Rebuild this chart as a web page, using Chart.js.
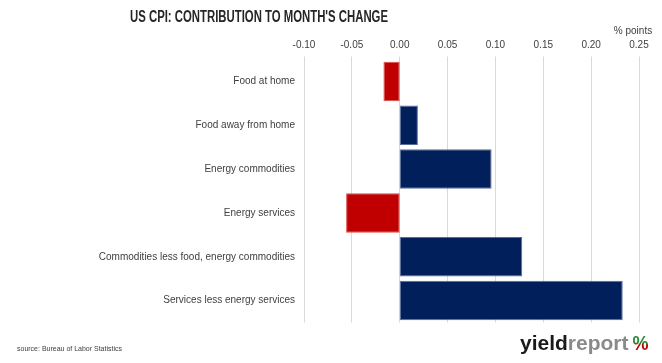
<!DOCTYPE html>
<html><head><meta charset="utf-8">
<script src="https://cdn.jsdelivr.net/npm/chart.js@4/dist/chart.umd.min.js"></script>
<style>html,body{margin:0;padding:0;background:#fff}#wrap{width:662px;height:363px}</style>
</head><body><div id="wrap"><canvas id="c" width="662" height="363"></canvas></div>
<script>
const categories = ["Food at home","Food away from home","Energy commodities","Energy services","Commodities less food, energy commodities","Services less energy services"];
const contributions = [-0.017, 0.019, 0.096, -0.056, 0.128, 0.233];
const axisMin = -0.10, axisMax = 0.25, axisStep = 0.05;
const titleText = "US CPI: CONTRIBUTION TO MONTH'S CHANGE";
const unitText = "% points";
const sourceText = "source: Bureau of Labor Statistics";

const NAVY = '#001F5B', RED = '#C00000';
const FONT = '"Liberation Sans", Arial, sans-serif';

const deco = {
  id: 'deco',
  afterDraw(chart) {
    const ctx = chart.ctx;
    ctx.save();
    ctx.textBaseline = 'middle';
    ctx.fillStyle = '#262626';
    ctx.font = 'bold 16px ' + FONT;
    ctx.textAlign = 'center';
    ctx.fillText(titleText, 259, 18, 258);
    ctx.font = '10px ' + FONT;
    ctx.fillStyle = '#404040';
    ctx.fillText(unitText, 633, 31);
    ctx.textAlign = 'left';
    ctx.font = '8px ' + FONT;
    ctx.fillText(sourceText, 17, 349, 105);
    // logo
    ctx.font = 'bold 21px ' + FONT;
    let x = 520; const y = 344;
    ctx.fillStyle = '#1a1a1a';
    ctx.fillText('yield', x, y, 52); x += Math.min(ctx.measureText('yield').width, 52);
    ctx.fillStyle = '#8a8a8a';
    ctx.fillText('report', x, y, 66); x += Math.min(ctx.measureText('report').width, 66) + 4;
    const g = ctx.createLinearGradient(0, 334, 0, 354);
    g.addColorStop(0, '#2e8b3a'); g.addColorStop(0.45, '#2e8b3a'); g.addColorStop(0.55, '#c00000'); g.addColorStop(1, '#c00000');
    ctx.fillStyle = g;
    ctx.fillText('%', x, y, 16);
    ctx.restore();
  }
};

new Chart(document.getElementById('c'), {
  type: 'bar',
  data: {
    labels: categories,
    datasets: [{
      data: contributions,
      backgroundColor: contributions.map(v => v < 0 ? RED : NAVY),
      borderColor: contributions.map(v => v < 0 ? '#d94a4a' : '#5a6d98'),
      borderWidth: 1,
      borderSkipped: false,
      barPercentage: 0.9,
      categoryPercentage: 1.0
    }]
  },
  options: {
    indexAxis: 'y',
    responsive: false,
    animation: false,
    layout: { padding: { left: 0, right: 23, top: 0, bottom: 40.5 } },
    plugins: { legend: { display: false }, tooltip: { enabled: false }, title: { display: false } },
    scales: {
      x: {
        position: 'top',
        min: axisMin, max: axisMax,
        afterFit(s) { s.height = 59.5; },
        ticks: { stepSize: axisStep, color: '#404040', font: { family: FONT, size: 10 }, padding: 5,
          callback: v => (Math.abs(v) < 1e-9 ? 0 : Number(v)).toFixed(2) },
        grid: { color: '#d9d9d9', lineWidth: 1, drawTicks: true, tickLength: 3, tickColor: '#d9d9d9' },
        border: { display: false }
      },
      y: {
        afterFit(s) { s.width = 304; },
        ticks: { color: '#404040', font: { family: FONT, size: 10 }, padding: 9 },
        grid: { display: false, drawTicks: false },
        border: { display: false }
      }
    }
  },
  plugins: [deco]
});
</script>
</body></html>
